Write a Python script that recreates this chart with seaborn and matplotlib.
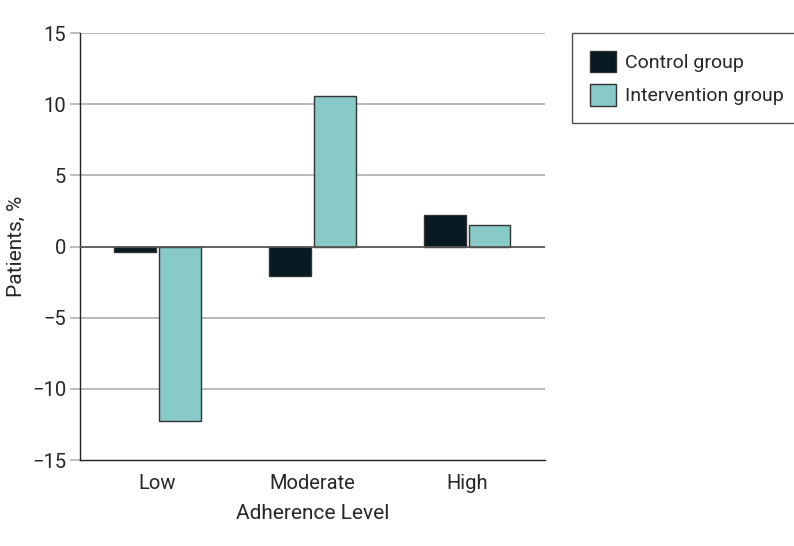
import pandas as pd
import numpy as np
import matplotlib
matplotlib.use('Agg')
import matplotlib.pyplot as plt
import seaborn as sns

# values
levels = ['Low', 'Moderate', 'High']
control = [-0.35, -2.1, 2.2]
intervention = [-12.25, 10.6, 1.5]
groups = ['Control group', 'Intervention group']
colors = ['#071a22', '#88cac7']

df = pd.DataFrame({
    'level': levels * 2,
    'value': control + intervention,
    'group': [groups[0]] * 3 + [groups[1]] * 3,
})

sns.set_style('white')
plt.rcParams['font.family'] = ['Roboto', 'DejaVu Sans']

fig = plt.figure(figsize=(7.94, 5.46), dpi=100)
ax = fig.add_axes([0.1008, 0.1575, 0.585, 0.782])

sns.barplot(data=df, x='level', y='value', hue='group', order=levels, hue_order=groups,
            palette=colors, saturation=1, width=0.58, gap=0.07, edgecolor='#333333',
            linewidth=1, ax=ax, zorder=3)

ax.set_ylim(-15, 15)
ax.set_xlim(-0.5, 2.5)
ax.set_yticks([-15, -10, -5, 0, 5, 10, 15])
ax.set_yticklabels(['\u221215', '\u221210', '\u22125', '0', '5', '10', '15'])
for y in [-10, -5, 5, 10, 15]:
    ax.axhline(y, color='#b3b3b3', lw=1.3, zorder=1)
ax.axhline(0, color='#555555', lw=1.3, zorder=4)

for s in ['top', 'right']:
    ax.spines[s].set_visible(False)
ax.spines['left'].set_color('#222222')
ax.spines['bottom'].set_color('#222222')
ax.spines['left'].set_linewidth(1)
ax.spines['bottom'].set_linewidth(1)

ax.tick_params(axis='y', length=7, width=1.2, color='#b3b3b3', labelsize=14.5, pad=3, left=True)
ax.tick_params(axis='x', length=0, labelsize=14.5, pad=10)
ax.set_xlabel('Adherence Level', fontsize=15, labelpad=8)
ax.set_ylabel('Patients, %', fontsize=15, labelpad=4)

leg = ax.legend(loc='upper left', bbox_to_anchor=(1.06, 1.0), frameon=True, fancybox=False,
                edgecolor='#222222', fontsize=14, handlelength=1.35, handleheight=1.35,
                borderpad=0.9, labelspacing=0.6, handletextpad=0.45, borderaxespad=0)
leg.get_frame().set_linewidth(1)

fig.savefig('out.png', dpi=100)
